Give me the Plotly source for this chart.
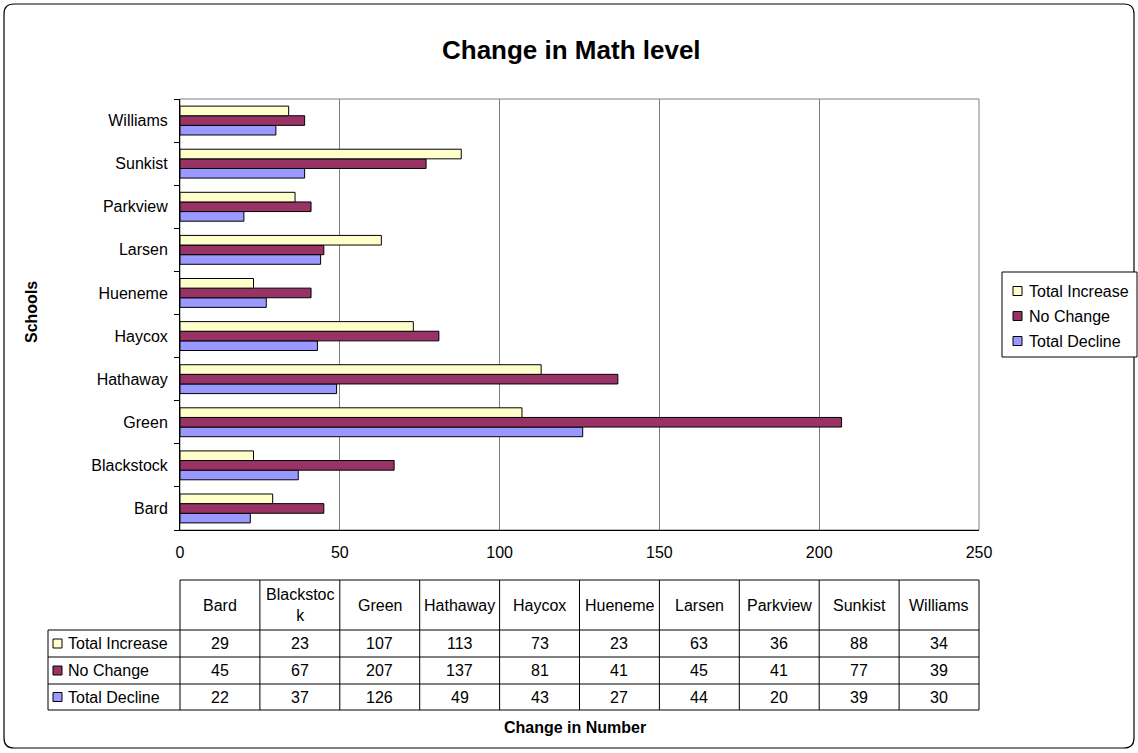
import plotly.graph_objects as go

schools = ["Bard", "Blackstock", "Green", "Hathaway", "Haycox", "Hueneme",
           "Larsen", "Parkview", "Sunkist", "Williams"]
header_labels = ["Bard", "Blackstoc<br>k", "Green", "Hathaway", "Haycox", "Hueneme",
                 "Larsen", "Parkview", "Sunkist", "Williams"]
total_increase = [29, 23, 107, 113, 73, 23, 63, 36, 88, 34]
no_change = [45, 67, 207, 137, 81, 41, 45, 41, 77, 39]
total_decline = [22, 37, 126, 49, 43, 27, 44, 20, 39, 30]
x_ticks = [0, 50, 100, 150, 200, 250]
series_names = ["Total Increase", "No Change", "Total Decline"]

C_INC = "#FFFFCC"
C_NOC = "#993366"
C_DEC = "#9999FF"

W, H = 1138, 753
L, R, T, B = 180, 979, 99, 530  # plot area in px

FONT = "Liberation Sans, Arial, sans-serif"


def px_x(px):
    return (px - L) / (R - L)


def px_y(py):
    return (B - py) / (B - T)


fig = go.Figure()
series = [(series_names[2], total_decline, C_DEC),
          (series_names[1], no_change, C_NOC),
          (series_names[0], total_increase, C_INC)]
for name, vals, col in series:
    fig.add_trace(go.Bar(
        y=schools, x=vals, name=name, orientation="h", showlegend=False,
        marker=dict(color=col, line=dict(color="black", width=1)),
    ))

shapes = []
# outer rounded border
x0, y0, x1, y1, r = 4, 4, 1134, 748, 10
path = (f"M {px_x(x0+r)},{px_y(y0)} L {px_x(x1-r)},{px_y(y0)} "
        f"Q {px_x(x1)},{px_y(y0)} {px_x(x1)},{px_y(y0+r)} "
        f"L {px_x(x1)},{px_y(y1-r)} Q {px_x(x1)},{px_y(y1)} {px_x(x1-r)},{px_y(y1)} "
        f"L {px_x(x0+r)},{px_y(y1)} Q {px_x(x0)},{px_y(y1)} {px_x(x0)},{px_y(y1-r)} "
        f"L {px_x(x0)},{px_y(y0+r)} Q {px_x(x0)},{px_y(y0)} {px_x(x0+r)},{px_y(y0)} Z")
shapes.append(dict(type="path", path=path, xref="paper", yref="paper",
                   line=dict(color="black", width=1.2), layer="below"))
# plot area frame (top/right)
shapes.append(dict(type="rect", xref="paper", yref="paper", x0=0, x1=1, y0=0, y1=1,
                   line=dict(color="#808080", width=1), layer="below"))

annotations = []
tfont = dict(size=16, color="black", family=FONT)

# legend (drawn)
shapes.append(dict(type="rect", xref="paper", yref="paper",
                   x0=px_x(1002), x1=px_x(1137), y0=px_y(272), y1=px_y(357),
                   line=dict(color="black", width=1), fillcolor="white"))
leg_cols = [C_INC, C_NOC, C_DEC]
for k, name in enumerate(series_names):
    cy = 291 + 25 * k
    shapes.append(dict(type="rect", xref="paper", yref="paper",
                       x0=px_x(1013), x1=px_x(1022), y0=px_y(cy - 4.5), y1=px_y(cy + 4.5),
                       fillcolor=leg_cols[k], line=dict(color="black", width=1)))
    annotations.append(dict(text=name, xref="paper", yref="paper", x=px_x(1027), y=px_y(cy),
                            xanchor="left", yanchor="middle", showarrow=False, font=tfont))

# data table
n = len(schools)
col_w = (R - L) / n
t_top, t_hdr, rows_y = 580, 630, [630, 657, 684, 710]
line_c = dict(color="black", width=1)
shapes.append(dict(type="line", xref="paper", yref="paper", x0=0, x1=1,
                   y0=px_y(t_top), y1=px_y(t_top), line=line_c))
for ry in rows_y:
    shapes.append(dict(type="line", xref="paper", yref="paper", x0=px_x(48), x1=1,
                       y0=px_y(ry), y1=px_y(ry), line=line_c))
for i in range(n + 1):
    xx = px_x(L + i * col_w)
    shapes.append(dict(type="line", xref="paper", yref="paper", x0=xx, x1=xx,
                       y0=px_y(t_top), y1=px_y(rows_y[-1]), line=line_c))
shapes.append(dict(type="line", xref="paper", yref="paper", x0=px_x(48), x1=px_x(48),
                   y0=px_y(rows_y[0]), y1=px_y(rows_y[-1]), line=line_c))

for i, lab in enumerate(header_labels):
    annotations.append(dict(text=lab, xref="paper", yref="paper",
                            x=px_x(L + (i + 0.5) * col_w), y=px_y((t_top + t_hdr) / 2),
                            xanchor="center", yanchor="middle",
                            showarrow=False, font=tfont))
table_rows = [(series_names[0], total_increase, C_INC),
              (series_names[1], no_change, C_NOC),
              (series_names[2], total_decline, C_DEC)]
for k, (name, vals, col) in enumerate(table_rows):
    cy = (rows_y[k] + rows_y[k + 1]) / 2
    shapes.append(dict(type="rect", xref="paper", yref="paper",
                       x0=px_x(53), x1=px_x(62), y0=px_y(cy - 4.5), y1=px_y(cy + 4.5),
                       fillcolor=col, line=dict(color="black", width=1)))
    annotations.append(dict(text=name, xref="paper", yref="paper", x=px_x(66), y=px_y(cy),
                            xanchor="left", yanchor="middle", showarrow=False, font=tfont))
    for i, v in enumerate(vals):
        annotations.append(dict(text=str(v), xref="paper", yref="paper",
                                x=px_x(L + (i + 0.5) * col_w), y=px_y(cy),
                                xanchor="center", yanchor="middle",
                                showarrow=False, font=tfont))

# axis titles
annotations.append(dict(text="<b>Change in Number</b>", xref="paper", yref="paper",
                        x=px_x(575), y=px_y(727), xanchor="center", yanchor="middle",
                        showarrow=False, font=tfont))
annotations.append(dict(text="<b>Schools</b>", xref="paper", yref="paper",
                        x=px_x(31), y=px_y(312), xanchor="center", yanchor="middle",
                        showarrow=False, textangle=-90, font=tfont))

fig.update_layout(
    width=W, height=H,
    margin=dict(l=L, r=W - R, t=T, b=H - B, autoexpand=False),
    paper_bgcolor="white", plot_bgcolor="white",
    barmode="group", bargap=0.33, bargroupgap=0, showlegend=False,
    title=dict(text="<b>Change in Math level</b>", x=0.502, xanchor="center",
               y=1 - 50 / H, yanchor="middle", yref="container",
               font=dict(size=26, color="black", family=FONT)),
    font=dict(family=FONT, size=16, color="black"),
    xaxis=dict(range=[0, 250], tickvals=x_ticks, showgrid=True, gridcolor="#808080",
               gridwidth=1, zeroline=False, showline=True, linecolor="black", linewidth=1,
               ticks="", tickfont=dict(size=16, color="black"), ticklabelstandoff=8,
               fixedrange=True),
    yaxis=dict(showgrid=False, showline=True, linecolor="black", linewidth=1,
               ticks="outside", ticklen=5, tickcolor="black", tickson="boundaries",
               tickfont=dict(size=16, color="black"), ticklabelstandoff=8, fixedrange=True),
    shapes=shapes, annotations=annotations,
)

fig.write_html("out.html", config={"displayModeBar": False},
               post_script="document.body.style.margin='0';document.body.style.overflow='hidden';")
